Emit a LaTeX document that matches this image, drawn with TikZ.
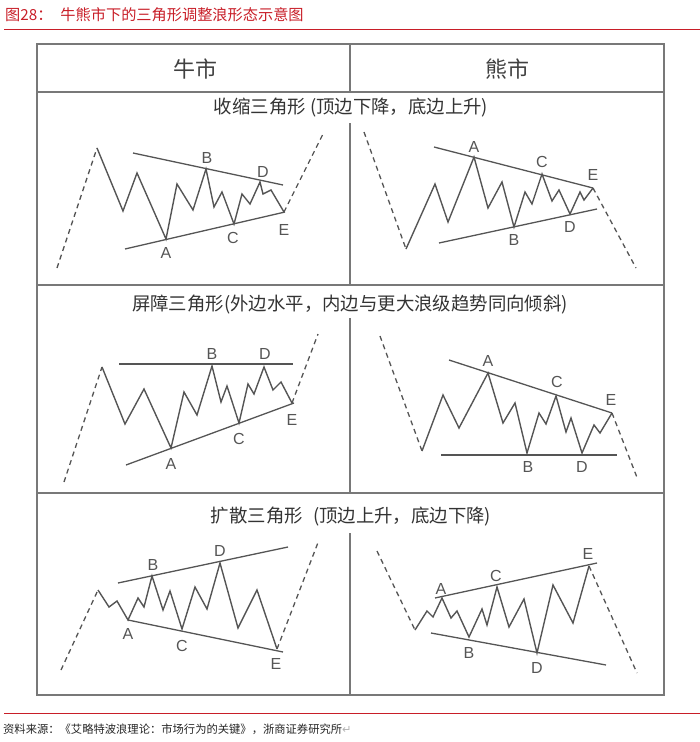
\documentclass[tikz,border=0pt]{standalone}
\usepackage{fontspec}
\newfontfamily\cjk{Noto Sans CJK SC}
\newfontfamily\lab{Liberation Sans}
\newfontfamily\sym{DejaVu Sans}
\definecolor{titlered}{RGB}{200,30,40}
\definecolor{ink}{RGB}{85,85,85}
\definecolor{frame}{RGB}{120,120,120}
\begin{document}
\begin{tikzpicture}[x=1pt,y=-1pt,
 wave/.style={ink,line width=1.4pt,line join=miter},
 bound/.style={ink,line width=1.3pt},
 trend/.style={ink,line width=1.3pt,dash pattern=on 5pt off 4pt},
 lbl/.style={font=\lab\fontsize{16}{16}\selectfont,text=ink,inner sep=0pt},
 hdr/.style={font=\cjk\fontsize{22}{22}\selectfont,text=black!75,inner sep=0pt},
 sect/.style={font=\cjk\fontsize{18.4}{18.4}\selectfont,text=black!80,inner sep=0pt},
 frm/.style={frame,line width=1.2pt},
 redline/.style={titlered,line width=1pt}]
\useasboundingbox (0,0) rectangle (700,742);

% title
\node[anchor=west,text=titlered,font=\cjk\fontsize{15.2}{16}\selectfont,inner sep=0pt] (title) at (5,15) {图28：\hspace{8pt}牛熊市下的三角形调整浪形态示意图};
\coordinate (tl1) at (4,29); \coordinate (tl2) at (700,29);
\draw[redline] (tl1) -- (tl2);

% frame
\draw[frm] (37,44) rectangle (664,695);
\draw[frm] (37,92) -- (664,92);
\draw[frm] (37,285) -- (664,285);
\draw[frm] (37,493) -- (664,493);
\draw[frm] (350,44) -- (350,92);
\draw[frm] (350,123) -- (350,285);
\draw[frm] (350,318) -- (350,493);
\draw[frm] (350,533) -- (350,695);

% headers
\node[hdr] (bull) at (195,69) {牛市};
\node[hdr] (bear) at (507,69) {熊市};
\node[sect] (s1) at (351,108) {收缩三角形 (顶边下降，底边上升)};
\node[sect] (s2) at (350,304) {屏障三角形(外边水平，内边与更大浪级趋势同向倾斜)};
\node[sect] (s3) at (351,517) {扩散三角形\hspace{6pt} (顶边上升，底边下降)};

% ---------- panel 1: bull contracting
\draw[trend] (57,268) -- (97,148);
\draw[wave] (97,148) -- (123,211) -- (137,173) -- (166,239) -- (177,184) -- (193,210) -- (206,169) -- (214,207) -- (222,192) -- (234,224) -- (242,194) -- (250,204) -- (260,182) -- (263,194) -- (271,190) -- (284,212);
\draw[trend] (284,212) -- (324,132);
\draw[bound] (133,153) -- (283,185);
\draw[bound] (125,249) -- (285,212);
\node[lbl] (p1A) at (166,253) {A};
\node[lbl] (p1B) at (207,158) {B};
\node[lbl] (p1C) at (233,238) {C};
\node[lbl] (p1D) at (263,172) {D};
\node[lbl] (p1E) at (284,230) {E};

% ---------- panel 2: bear contracting
\draw[trend] (364,132) -- (406,249);
\draw[wave] (406,249) -- (435,184) -- (448,222) -- (474,157) -- (488,208) -- (502,182) -- (514,227) -- (525,192) -- (532,204) -- (542,174) -- (552,201) -- (559,190) -- (570,214) -- (580,192) -- (584,200) -- (593,188);
\draw[trend] (593,188) -- (636,268);
\draw[bound] (434,147) -- (593,188);
\draw[bound] (439,243) -- (597,209);
\node[lbl] (p2A) at (474,147) {A};
\node[lbl] (p2B) at (514,240) {B};
\node[lbl] (p2C) at (542,162) {C};
\node[lbl] (p2D) at (570,227) {D};
\node[lbl] (p2E) at (593,175) {E};

% ---------- panel 3: bull barrier
\draw[trend] (64,482) -- (102,367);
\draw[wave] (102,367) -- (125,424) -- (144,389) -- (171,448) -- (184,392) -- (197,415) -- (212,366) -- (221,402) -- (227,386) -- (239,423) -- (248,384) -- (254,394) -- (264,367) -- (273,390) -- (281,382) -- (292,403);
\draw[trend] (292,403) -- (318,334);
\draw[bound] (119,364) -- (293,364);
\draw[bound] (126,465) -- (294,403);
\node[lbl] (p3A) at (171,464) {A};
\node[lbl] (p3B) at (212,354) {B};
\node[lbl] (p3C) at (239,439) {C};
\node[lbl] (p3D) at (265,354) {D};
\node[lbl] (p3E) at (292,420) {E};

% ---------- panel 4: bear barrier
\draw[trend] (380,336) -- (422,451);
\draw[wave] (422,451) -- (443,395) -- (459,428) -- (488,373) -- (503,423) -- (515,403) -- (527,453) -- (539,413) -- (546,424) -- (556,396) -- (566,432) -- (571,418) -- (582,453) -- (594,425) -- (600,433) -- (612,413);
\draw[trend] (612,413) -- (638,480);
\draw[bound] (449,360) -- (612,413);
\draw[bound] (441,455) -- (617,455);
\node[lbl] (p4A) at (488,361) {A};
\node[lbl] (p4B) at (528,467) {B};
\node[lbl] (p4C) at (557,382) {C};
\node[lbl] (p4D) at (582,467) {D};
\node[lbl] (p4E) at (611,400) {E};

% ---------- panel 5: bull expanding
\draw[trend] (61,670) -- (98,590);
\draw[wave] (98,590) -- (109,607) -- (117,601) -- (128,620) -- (138,598) -- (144,607) -- (152,576) -- (163,610) -- (170,591) -- (182,629) -- (195,587) -- (207,609) -- (220,563) -- (238,628) -- (257,590) -- (277,649);
\draw[trend] (277,649) -- (319,540);
\draw[bound] (118,583) -- (288,547);
\draw[bound] (128,620) -- (283,652);
\node[lbl] (p5A) at (128,634) {A};
\node[lbl] (p5B) at (153,565) {B};
\node[lbl] (p5C) at (182,646) {C};
\node[lbl] (p5D) at (220,551) {D};
\node[lbl] (p5E) at (276,664) {E};

% ---------- panel 6: bear expanding
\draw[trend] (377,551) -- (415,630);
\draw[wave] (415,630) -- (427,611) -- (433,617) -- (442,598) -- (451,618) -- (457,611) -- (469,637) -- (482,609) -- (487,625) -- (497,587) -- (509,627) -- (524,599) -- (537,653) -- (553,585) -- (573,623) -- (589,566);
\draw[trend] (589,566) -- (637,673);
\draw[bound] (435,598) -- (597,563);
\draw[bound] (431,633) -- (606,665);
\node[lbl] (p6A) at (441,589) {A};
\node[lbl] (p6B) at (469,653) {B};
\node[lbl] (p6C) at (496,576) {C};
\node[lbl] (p6D) at (537,668) {D};
\node[lbl] (p6E) at (588,554) {E};

% footer
\coordinate (fl1) at (4,713); \coordinate (fl2) at (700,713);
\draw[redline] (fl1) -- (fl2);
\node[anchor=west,font=\cjk\fontsize{11.3}{12}\selectfont,text=black!85,inner sep=0pt] (src) at (3,729) {资料来源：《艾略特波浪理论：市场行为的关键》，浙商证券研究所{\sym\color{gray!60}↵}};
\end{tikzpicture}
\end{document}
